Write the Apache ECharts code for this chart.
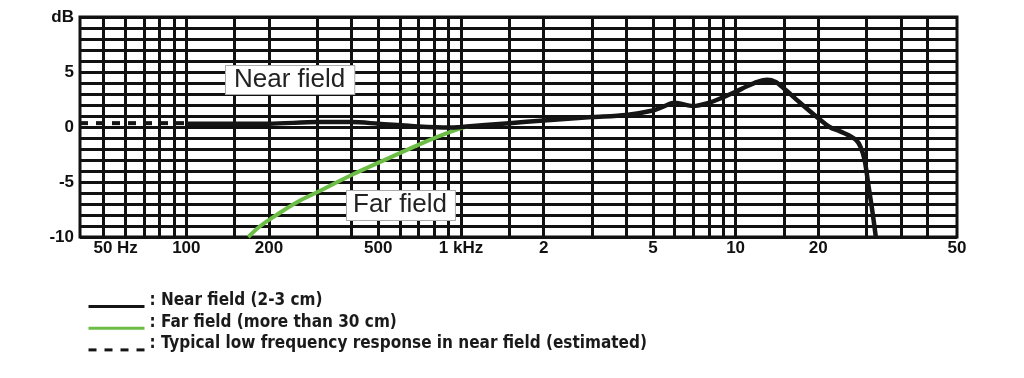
<!DOCTYPE html>
<html>
<head>
<meta charset="utf-8">
<style>
  html, body { margin: 0; padding: 0; background: #fff; }
  #chart { width: 1024px; height: 378px; }
</style>
<script src="https://cdn.jsdelivr.net/npm/echarts@6/dist/echarts.min.js"></script>
</head>
<body>
<div id="chart"></div>
<script>
// 频率网格线 (Hz)
var gridFreqs = [50, 60, 70, 80, 90, 100, 150, 200, 300, 400, 500, 600, 700, 800, 900,
  1000, 1500, 2000, 3000, 4000, 5000, 6000, 7000, 8000, 9000,
  10000, 15000, 20000, 30000, 40000, 50000];
// 频率刻度标签
var labelFreqs = [50, 100, 200, 500, 1000, 2000, 5000, 10000, 20000, 64000];
var labelTexts = ["50 Hz", "100", "200", "500", "1 kHz", "2", "5", "10", "20", "50"];

// 近场 [Hz, dB]
var nearField = [
  [100, 0.3], [150, 0.3], [200, 0.3], [300, 0.45], [400, 0.45], [500, 0.3],
  [700, 0.05], [900, -0.05], [1000, 0], [1500, 0.35], [2000, 0.6], [3000, 0.9],
  [4000, 1.1], [5000, 1.5], [5500, 1.9], [6000, 2.2], [7000, 1.9], [8000, 2.2],
  [9000, 2.7], [10000, 3.2], [11000, 3.7], [12000, 4.1], [13000, 4.3], [14000, 4.1],
  [15000, 3.5], [17000, 2.3], [20000, 0.8], [22000, 0], [24000, -0.4], [26000, -0.8],
  [27500, -1.2], [28500, -1.8], [29500, -3], [30500, -5.4], [31500, -7.7], [32400, -10]
];
// 远场 [Hz, dB]
var farField = [
  [168, -10], [186, -9.0], [210, -8.1], [250, -6.9], [307, -5.8], [405, -4.3],
  [538, -2.9], [710, -1.55], [936, -0.36], [1080, 0.1]
];
// 近场低频估计 (虚线)
var lowFreqEst = [[41, 0.35], [100, 0.35]];

var seriesNames = [
  "Near field (2-3 cm)",
  "Far field (more than 30 cm)",
  "Typical low frequency response in near field (estimated)"
];

var chart = echarts.init(document.getElementById("chart"));
var labelFont = "'Liberation Sans', Arial, sans-serif";
var legendFont = "'Liberation Sans Narrow', 'DejaVu Sans Condensed', sans-serif";

var option = {
  backgroundColor: "#fff",
  animation: false,
  grid: {
    left: 80,
    top: 17,
    width: 877,
    height: 220,
    show: true,
    borderColor: "#111",
    borderWidth: 3,
    containLabel: false,
    outerBoundsMode: "none"
  },
  legend: {
    data: seriesNames,
    orient: "vertical",
    left: 82,
    top: 287,
    itemWidth: 56,
    itemHeight: 18,
    itemGap: 0,
    selectedMode: false,
    itemStyle: { opacity: 0, borderWidth: 0 },
    lineStyle: { width: 3 },
    formatter: function (name) { return "{t|: " + name + "}"; },
    textStyle: {
      color: "#1a1a1a",
      fontSize: 17,
      fontWeight: "bold",
      fontFamily: legendFont,
      rich: {
        t: {
          color: "#1a1a1a",
          fontSize: 17,
          fontWeight: "bold",
          fontFamily: legendFont,
          padding: [0, 0, 12, 0]
        }
      }
    }
  },
  xAxis: {
    type: "log",
    logBase: 10,
    min: 41,
    max: 64000,
    axisLine: { show: false },
    axisTick: { show: false, customValues: gridFreqs },
    splitLine: { show: true, lineStyle: { color: "#111", width: 3 } },
    minorSplitLine: { show: false },
    axisLabel: {
      customValues: labelFreqs,
      margin: 3,
      color: "#111",
      fontSize: 17,
      fontWeight: "bold",
      fontFamily: labelFont,
      formatter: function (v) {
        var best = 0, d = Infinity;
        for (var i = 0; i < labelFreqs.length; i++) {
          var dd = Math.abs(Math.log(v) - Math.log(labelFreqs[i]));
          if (dd < d) { d = dd; best = i; }
        }
        return best === 0 ? "{a|" + labelTexts[0] + "}" : labelTexts[best];
      },
      rich: {
        a: { fontSize: 17, fontWeight: "bold", fontFamily: labelFont, color: "#111", padding: [0, 0, 0, 24] }
      }
    }
  },
  yAxis: {
    type: "value",
    min: -10,
    max: 10,
    interval: 1,
    axisLine: { show: false },
    axisTick: { show: false },
    splitLine: { show: true, lineStyle: { color: "#111", width: 3 } },
    axisLabel: {
      margin: 6,
      color: "#111",
      fontSize: 17,
      fontWeight: "bold",
      fontFamily: labelFont,
      formatter: function (v) {
        if (v === 10) return "dB";
        if (v % 5 === 0) return String(v);
        return "";
      }
    }
  },
  graphic: [
    {
      type: "text",
      left: 225,
      top: 65,
      z: 100,
      style: {
        text: "Near field",
        fontSize: 26,
        fontFamily: labelFont,
        fill: "#222",
        backgroundColor: "#fff",
        borderColor: "#aaa",
        borderWidth: 1,
        padding: [1, 9, 1, 8]
      }
    },
    {
      type: "text",
      left: 346,
      top: 190,
      z: 100,
      style: {
        text: "Far field",
        fontSize: 26,
        fontFamily: labelFont,
        fill: "#222",
        backgroundColor: "#fff",
        borderColor: "#aaa",
        borderWidth: 1,
        padding: [1, 8, 2, 6]
      }
    }
  ],
  series: [
    {
      name: seriesNames[1],
      type: "line",
      data: farField,
      smooth: 0.4,
      symbol: "none",
      z: 3,
      lineStyle: { color: "#6cbd45", width: 4 },
      itemStyle: { color: "#6cbd45" }
    },
    {
      name: seriesNames[0],
      type: "line",
      data: nearField,
      smooth: 0.3,
      symbol: "none",
      z: 4,
      lineStyle: { color: "#151515", width: 4.5 },
      itemStyle: { color: "#151515" }
    },
    {
      name: seriesNames[2],
      type: "line",
      data: lowFreqEst,
      symbol: "none",
      z: 4,
      lineStyle: { color: "#151515", width: 4, type: [8, 8] },
      itemStyle: { color: "#151515" }
    }
  ]
};

chart.setOption(option);
</script>
</body>
</html>
